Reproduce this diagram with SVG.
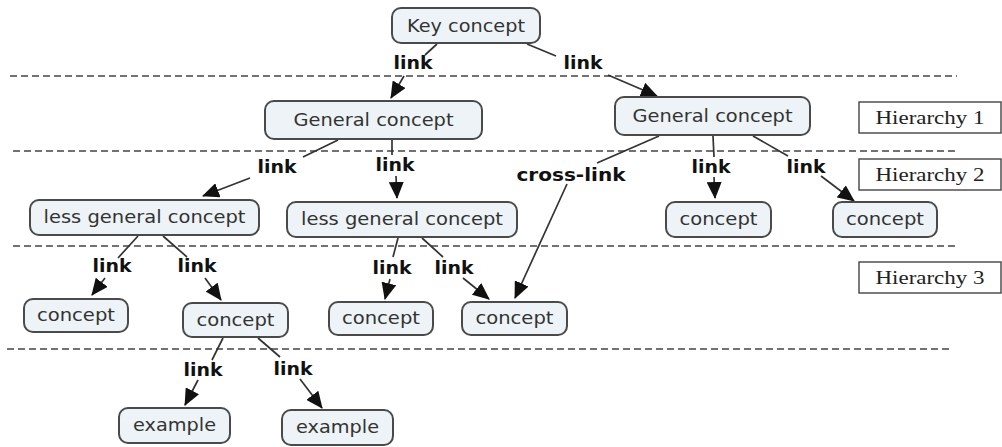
<svg xmlns="http://www.w3.org/2000/svg" width="1002" height="447" viewBox="0 0 1002 447">
<style>
.node rect{fill:#edf3f6;stroke:#4a4a4a;stroke-width:2}
.node text{font-family:"DejaVu Sans",Verdana,sans-serif;font-size:18px;fill:#333;text-anchor:middle}
.lbl{font-family:"DejaVu Sans",sans-serif;font-weight:bold;font-size:17px;fill:#111;text-anchor:middle}
.seg{stroke:#333;stroke-width:1.7;fill:none}
.arr{stroke:#333;stroke-width:1.7;fill:none;marker-end:url(#ah)}
.dash{stroke:#444;stroke-width:1.7;stroke-dasharray:7 4}
.hier rect{fill:#fff;stroke:#444;stroke-width:1.4}
.hier text{font-family:"Liberation Serif","Times New Roman",serif;font-size:19px;fill:#222;text-anchor:middle}
</style>
<defs>
<marker id="ah" markerUnits="userSpaceOnUse" markerWidth="17" markerHeight="15" viewBox="0 0 17 15" refX="16" refY="7.5" orient="auto">
<path d="M0,0 L17,7.5 L0,15 z" fill="#111"/>
</marker>
</defs>
<rect width="1002" height="447" fill="#fff"/>
<g id="dividers">
<line class="dash" x1="10" y1="76" x2="957" y2="76"/>
<line class="dash" x1="13" y1="151" x2="955" y2="151"/>
<line class="dash" x1="13" y1="246" x2="955" y2="246"/>
<line class="dash" x1="7" y1="349" x2="950" y2="349"/>
</g>
<g id="hierarchy-labels">
<g class="hier" id="h1"><rect x="859" y="102" width="142" height="31"/><text x="930" y="124" textLength="109" lengthAdjust="spacingAndGlyphs">Hierarchy 1</text></g>
<g class="hier" id="h2"><rect x="859" y="159" width="142" height="31"/><text x="930" y="181" textLength="109" lengthAdjust="spacingAndGlyphs">Hierarchy 2</text></g>
<g class="hier" id="h3"><rect x="859" y="262" width="142" height="31"/><text x="930" y="284" textLength="109" lengthAdjust="spacingAndGlyphs">Hierarchy 3</text></g>
</g>
<g id="connectors">
<line class="seg" x1="437" y1="44" x2="425" y2="55"/>
<text class="lbl" x="413" y="69" textLength="39" lengthAdjust="spacingAndGlyphs">link</text>
<line class="arr" x1="404" y1="76" x2="391" y2="98"/>
<line class="seg" x1="527" y1="44" x2="556" y2="56"/>
<text class="lbl" x="583" y="69" textLength="39" lengthAdjust="spacingAndGlyphs">link</text>
<line class="arr" x1="608" y1="75" x2="657" y2="96"/>
<line class="seg" x1="338" y1="140" x2="303" y2="157"/>
<text class="lbl" x="277" y="173" textLength="39" lengthAdjust="spacingAndGlyphs">link</text>
<line class="arr" x1="250" y1="178" x2="203" y2="196"/>
<line class="seg" x1="392" y1="140" x2="392" y2="155"/>
<text class="lbl" x="395" y="171" textLength="39" lengthAdjust="spacingAndGlyphs">link</text>
<line class="arr" x1="396" y1="176" x2="397" y2="198"/>
<line class="seg" x1="659" y1="136" x2="597" y2="163"/>
<text class="lbl" x="571" y="181" textLength="109" lengthAdjust="spacingAndGlyphs">cross-link</text>
<line class="arr" x1="567" y1="184" x2="515" y2="298"/>
<line class="seg" x1="713" y1="136" x2="714" y2="157"/>
<text class="lbl" x="711" y="173" textLength="39" lengthAdjust="spacingAndGlyphs">link</text>
<line class="arr" x1="714" y1="177" x2="715" y2="198"/>
<line class="seg" x1="753" y1="136" x2="788" y2="156"/>
<text class="lbl" x="806" y="173" textLength="39" lengthAdjust="spacingAndGlyphs">link</text>
<line class="arr" x1="821" y1="176" x2="854" y2="201"/>
<line class="seg" x1="138" y1="236" x2="118" y2="258"/>
<text class="lbl" x="112" y="272" textLength="39" lengthAdjust="spacingAndGlyphs">link</text>
<line class="arr" x1="105" y1="278" x2="92" y2="295"/>
<line class="seg" x1="163" y1="236" x2="187" y2="257"/>
<text class="lbl" x="197" y="272" textLength="39" lengthAdjust="spacingAndGlyphs">link</text>
<line class="arr" x1="205" y1="278" x2="221" y2="300"/>
<line class="seg" x1="398" y1="238" x2="393" y2="257"/>
<text class="lbl" x="392" y="274" textLength="39" lengthAdjust="spacingAndGlyphs">link</text>
<line class="arr" x1="390" y1="279" x2="385" y2="299"/>
<line class="seg" x1="422" y1="238" x2="443" y2="257"/>
<text class="lbl" x="454" y="274" textLength="39" lengthAdjust="spacingAndGlyphs">link</text>
<line class="arr" x1="463" y1="278" x2="489" y2="299"/>
<line class="seg" x1="223" y1="338" x2="212" y2="360"/>
<text class="lbl" x="203" y="376" textLength="39" lengthAdjust="spacingAndGlyphs">link</text>
<line class="arr" x1="198" y1="380" x2="185" y2="405"/>
<line class="seg" x1="258" y1="338" x2="280" y2="357"/>
<text class="lbl" x="293" y="375" textLength="39" lengthAdjust="spacingAndGlyphs">link</text>
<line class="arr" x1="300" y1="379" x2="322" y2="408"/>
</g>
<g class="node" id="key-concept"><rect x="392" y="8" width="148" height="35" rx="9"/><text x="466" y="32" textLength="118" lengthAdjust="spacingAndGlyphs">Key concept</text></g>
<g class="node" id="general-left"><rect x="265" y="101" width="217" height="38" rx="9"/><text x="373.5" y="126" textLength="160" lengthAdjust="spacingAndGlyphs">General concept</text></g>
<g class="node" id="general-right"><rect x="615" y="97" width="195" height="38" rx="9"/><text x="712.5" y="122" textLength="160" lengthAdjust="spacingAndGlyphs">General concept</text></g>
<g class="node" id="less-general-left"><rect x="30" y="200" width="229" height="35" rx="9"/><text x="144.5" y="223" textLength="202" lengthAdjust="spacingAndGlyphs">less general concept</text></g>
<g class="node" id="less-general-right"><rect x="287" y="202" width="230" height="35" rx="9"/><text x="402" y="225" textLength="202" lengthAdjust="spacingAndGlyphs">less general concept</text></g>
<g class="node" id="concept-r1"><rect x="666" y="202" width="105" height="35" rx="9"/><text x="718.5" y="225" textLength="78" lengthAdjust="spacingAndGlyphs">concept</text></g>
<g class="node" id="concept-r2"><rect x="833" y="202" width="104" height="35" rx="9"/><text x="885" y="225" textLength="78" lengthAdjust="spacingAndGlyphs">concept</text></g>
<g class="node" id="concept-1"><rect x="24" y="299" width="104" height="33" rx="9"/><text x="76" y="321" textLength="78" lengthAdjust="spacingAndGlyphs">concept</text></g>
<g class="node" id="concept-2"><rect x="183" y="303" width="105" height="34" rx="9"/><text x="235.5" y="326" textLength="78" lengthAdjust="spacingAndGlyphs">concept</text></g>
<g class="node" id="concept-3"><rect x="329" y="302" width="104" height="33" rx="9"/><text x="381" y="324" textLength="78" lengthAdjust="spacingAndGlyphs">concept</text></g>
<g class="node" id="concept-4"><rect x="462" y="302" width="105" height="33" rx="9"/><text x="514.5" y="324" textLength="78" lengthAdjust="spacingAndGlyphs">concept</text></g>
<g class="node" id="example-1"><rect x="119" y="408" width="111" height="35" rx="9"/><text x="174.5" y="431" textLength="83" lengthAdjust="spacingAndGlyphs">example</text></g>
<g class="node" id="example-2"><rect x="282" y="410" width="111" height="35" rx="9"/><text x="337.5" y="433" textLength="83" lengthAdjust="spacingAndGlyphs">example</text></g>
</svg>
